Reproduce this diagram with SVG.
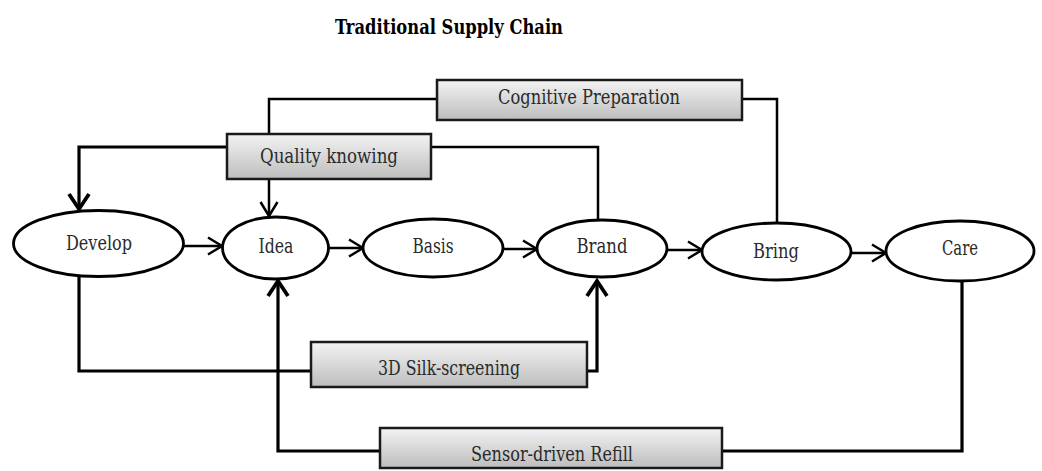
<svg xmlns="http://www.w3.org/2000/svg" width="1042" height="471" viewBox="0 0 1042 471">
  <defs>
    <linearGradient id="boxFill" x1="0" y1="0" x2="0" y2="1">
      <stop offset="0" stop-color="#f3f3f3"/>
      <stop offset="1" stop-color="#bdbdbd"/>
    </linearGradient>
    <marker id="arrowThin" markerUnits="userSpaceOnUse" viewBox="0 0 18 20" markerWidth="18" markerHeight="20" refX="16" refY="10" orient="auto">
      <path d="M2,1.5 L16,10 L2,18.5" fill="none" stroke="#000" stroke-width="2.5"/>
    </marker>
    <marker id="arrowThick" markerUnits="userSpaceOnUse" viewBox="0 0 20 24" markerWidth="20" markerHeight="24" refX="17" refY="12" orient="auto">
      <path d="M2,2 L17,12 L2,22" fill="none" stroke="#000" stroke-width="3.8"/>
    </marker>
  </defs>
  <style>
    text { font-family: "DejaVu Serif Condensed", "DejaVu Serif", "Liberation Serif", serif; font-stretch: condensed; font-size: 20.5px; fill: #2a2a2a; text-anchor: middle; }
    .title { font-weight: bold; fill: #000; font-size: 20px; }
    .node ellipse { fill: #fff; stroke: #000; stroke-width: 2.8; }
    .box rect { fill: url(#boxFill); stroke: #1a1a1a; stroke-width: 2.5; }
    .conn path { fill: none; stroke: #000; stroke-linejoin: miter; }
    .thin { stroke-width: 2.5; }
    .thick { stroke-width: 3.2; }
  </style>

  <text class="title" x="449" y="34" textLength="228" lengthAdjust="spacingAndGlyphs">Traditional Supply Chain</text>

  <!-- connectors -->
  <g id="connectors" class="conn">
    <path class="thin" d="M184,246 H222" marker-end="url(#arrowThin)"/>
    <path class="thin" d="M329,248 H363" marker-end="url(#arrowThin)"/>
    <path class="thin" d="M503,249 H537" marker-end="url(#arrowThin)"/>
    <path class="thin" d="M667,250 H702" marker-end="url(#arrowThin)"/>
    <path class="thin" d="M851,253 H886" marker-end="url(#arrowThin)"/>
    <path class="thin" d="M437,99 H269 V134"/>
    <path class="thin" d="M269,179 V216" marker-end="url(#arrowThin)"/>
    <path class="thin" d="M742,99 H777 V223"/>
    <path class="thick" d="M227,147 H79 V209" marker-end="url(#arrowThick)"/>
    <path class="thin" d="M431,147 H598 V220"/>
    <path class="thick" d="M79,277 V371 H311"/>
    <path class="thick" d="M587,371 H597 V281" marker-end="url(#arrowThick)"/>
    <path class="thick" d="M962,281 V451 H722"/>
    <path class="thick" d="M380,451 H278 V281" marker-end="url(#arrowThick)"/>
  </g>

  <!-- label boxes -->
  <g id="box-cognitive" class="box">
    <rect x="437" y="80" width="305" height="40"/>
    <text x="589" y="104" textLength="182" lengthAdjust="spacingAndGlyphs">Cognitive Preparation</text>
  </g>
  <g id="box-quality" class="box">
    <rect x="227" y="134" width="204" height="45"/>
    <text x="329" y="163" textLength="138" lengthAdjust="spacingAndGlyphs">Quality knowing</text>
  </g>
  <g id="box-silk" class="box">
    <rect x="311" y="342" width="276" height="45"/>
    <text x="449" y="375" textLength="142" lengthAdjust="spacingAndGlyphs">3D Silk-screening</text>
  </g>
  <g id="box-sensor" class="box">
    <rect x="380" y="428" width="342" height="40"/>
    <text x="552" y="461" textLength="162" lengthAdjust="spacingAndGlyphs">Sensor-driven Refill</text>
  </g>

  <!-- process nodes -->
  <g id="node-develop" class="node">
    <ellipse cx="98.5" cy="243.5" rx="85" ry="33"/>
    <text x="99" y="250" textLength="66" lengthAdjust="spacingAndGlyphs">Develop</text>
  </g>
  <g id="node-idea" class="node">
    <ellipse cx="275.5" cy="248" rx="53" ry="31"/>
    <text x="276" y="253" textLength="35" lengthAdjust="spacingAndGlyphs">Idea</text>
  </g>
  <g id="node-basis" class="node">
    <ellipse cx="433" cy="248" rx="70" ry="29"/>
    <text x="433" y="253" textLength="41" lengthAdjust="spacingAndGlyphs">Basis</text>
  </g>
  <g id="node-brand" class="node">
    <ellipse cx="602" cy="248.5" rx="65" ry="28.5"/>
    <text x="602" y="253" textLength="51" lengthAdjust="spacingAndGlyphs">Brand</text>
  </g>
  <g id="node-bring" class="node">
    <ellipse cx="776.5" cy="251.5" rx="74.5" ry="28.5"/>
    <text x="776" y="258" textLength="46" lengthAdjust="spacingAndGlyphs">Bring</text>
  </g>
  <g id="node-care" class="node">
    <ellipse cx="960" cy="251" rx="74" ry="30"/>
    <text x="960" y="255" textLength="36" lengthAdjust="spacingAndGlyphs">Care</text>
  </g>
</svg>
